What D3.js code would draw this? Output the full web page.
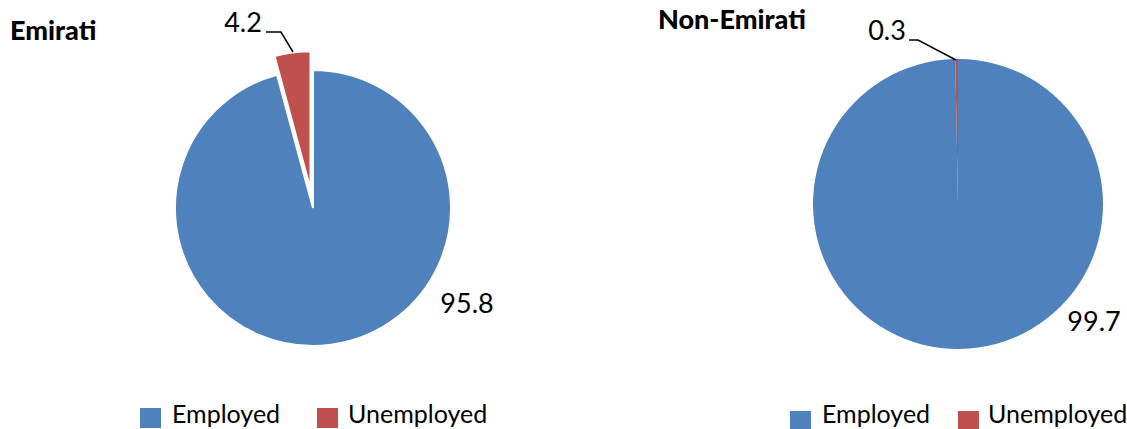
<!DOCTYPE html>
<html>
<head>
<meta charset="utf-8">
<script src="https://cdn.jsdelivr.net/npm/d3@7"></script>
<style>
  body { margin: 0; background: #fff; }
  svg { font-family: Lato, "Open Sans", sans-serif; }
</style>
</head>
<body>
<div id="chart"></div>
<script>
// employment status by nationality (percent)
var categories = ["Employed", "Unemployed"];
var groups = ["Emirati", "Non-Emirati"];
var emiratiValues = [95.8, 4.2];
var nonEmiratiValues = [99.7, 0.3];
var colors = ["#4F81BD", "#C0504D"];

var width = 1127, height = 429;

var svg = d3.select("#chart")
    .append("svg")
    .attr("width", width)
    .attr("height", height);

// one panel per group
var panels = [
    {title: groups[0], values: emiratiValues, cx: 313, cy: 208, r: 138, explode: 19,
     titleX: 10, titleY: 40,
     bigLabel: {x: 467, y: 313}, smallLabel: {x: 243, y: 32},
     leader: [[266, 32], [281, 32], [293, 52]],
     legendX: 140, legendY: 408, legendBase: 15, legendXs: [0, 177], textOff: [32, 31]},
    {title: groups[1], values: nonEmiratiValues, cx: 958, cy: 204, r: 145, explode: 0,
     titleX: 658, titleY: 29,
     bigLabel: {x: 1094, y: 331}, smallLabel: {x: 887, y: 40},
     leader: [[909, 40], [918, 40], [956, 60]],
     legendX: 790, legendY: 411, legendBase: 12, legendXs: [0, 168], textOff: [32, 30]}
];

var pie = d3.pie().sort(null).value(function(d) { return d; });

panels.forEach(function(p) {
    var g = svg.append("g")
        .attr("transform", "translate(" + p.cx + "," + p.cy + ")");

    var arc = d3.arc().innerRadius(0).outerRadius(p.r);
    var arcs = pie(p.values);

    g.selectAll("path")
        .data(arcs)
        .enter()
        .append("path")
        .attr("d", arc)
        .attr("fill", function(d, i) { return colors[i]; })
        .attr("stroke", "#fff")
        .attr("stroke-width", function(d, i) { return p.explode > 0 ? 2 : 0; })
        .attr("transform", function(d, i) {
            if (i == 1 && p.explode > 0) {
                var a = (d.startAngle + d.endAngle) / 2;
                return "translate(" + (Math.sin(a) * p.explode) + "," + (-Math.cos(a) * p.explode) + ")";
            }
            return null;
        });

    // title
    svg.append("text")
        .attr("x", p.titleX)
        .attr("y", p.titleY)
        .attr("font-size", 27)
        .attr("font-weight", 900)
        .attr("fill", "#000")
        .text(p.title);

    // data labels
    svg.append("text")
        .attr("x", p.bigLabel.x)
        .attr("y", p.bigLabel.y)
        .attr("text-anchor", "middle")
        .attr("font-size", 27)
        .text(p.values[0]);

    svg.append("text")
        .attr("x", p.smallLabel.x)
        .attr("y", p.smallLabel.y)
        .attr("text-anchor", "middle")
        .attr("font-size", 27)
        .text(p.values[1]);

    svg.append("polyline")
        .attr("points", p.leader.map(function(q) { return q.join(","); }).join(" "))
        .attr("fill", "none")
        .attr("stroke", "#000")
        .attr("stroke-width", 1.5);

    // legend
    var lg = svg.append("g")
        .attr("transform", "translate(" + p.legendX + "," + p.legendY + ")");
    categories.forEach(function(c, i) {
        lg.append("rect")
            .attr("x", p.legendXs[i])
            .attr("y", 0)
            .attr("width", 21)
            .attr("height", 20)
            .attr("fill", colors[i]);
        lg.append("text")
            .attr("x", p.legendXs[i] + p.textOff[i])
            .attr("y", p.legendBase)
            .attr("font-size", 25)
            .text(c);
    });
});
</script>
</body>
</html>
